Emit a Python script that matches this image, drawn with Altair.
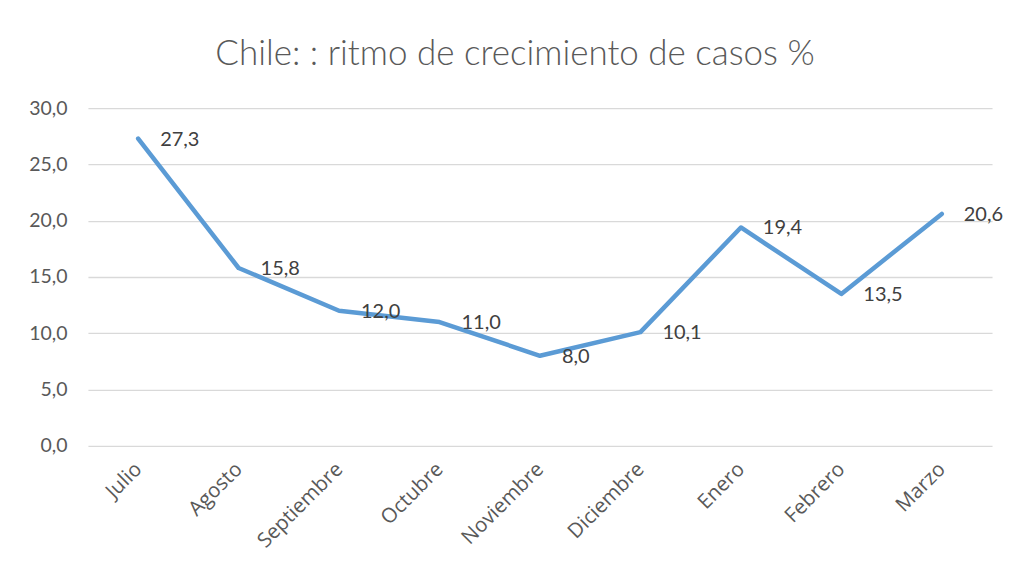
import altair as alt
import pandas as pd

meses = ["Julio", "Agosto", "Septiembre", "Octubre", "Noviembre",
         "Diciembre", "Enero", "Febrero", "Marzo"]
ritmo = [27.3, 15.8, 12.0, 11.0, 8.0, 10.1, 19.4, 13.5, 20.6]
y_ticks = [0, 5, 10, 15, 20, 25, 30]

df = pd.DataFrame({"mes": meses, "valor": ritmo})

FONT = "Lato"
x = alt.X("mes:N", sort=meses, title=None,
          scale=alt.Scale(paddingInner=0, paddingOuter=0.5),
          axis=alt.Axis(labelAngle=-45, labelAlign="right", labelBaseline="middle",
                        labelPadding=20, ticks=False, domain=False, grid=False,
                        labelFont="Open Sans", labelFontSize=20.5, labelColor="#595959"))
y = alt.Y("valor:Q", title=None,
          scale=alt.Scale(domain=[0, 30], nice=False, zero=True),
          axis=alt.Axis(values=y_ticks, ticks=False, domain=False,
                        gridColor="#D9D9D9", gridWidth=1.3,
                        labelPadding=21, labelFont=FONT, labelFontSize=19.5,
                        labelColor="#595959",
                        labelExpr="replace(format(datum.value, '.1f'), '.', ',')"))

base = alt.Chart(df).encode(x=x, y=y)

line = base.mark_line(color="#5B9BD5", strokeWidth=4.5, strokeCap="round",
                      strokeJoin="round")
labels = base.transform_calculate(
    lab="replace(format(datum.valor, '.1f'), '.', ',')"
).mark_text(align="left", baseline="middle", dx=22, dy=1, font=FONT,
            fontSize=20, color="#404040").encode(text="lab:N")

chart = (line + labels).properties(
    width=905, height=338,
    background="white",
    title=alt.TitleParams("Chile: : ritmo de crecimiento de casos %",
                          font=FONT, fontSize=35, fontWeight=300,
                          color="#595959", anchor="middle", dx=-25, offset=26),
    autosize=alt.AutoSizeParams(type="none"),
    padding={"left": 80, "top": 100, "right": 20, "bottom": 110},
).configure_view(strokeWidth=0)

chart.save("out.html", embed_options={"renderer": "svg", "actions": False})
